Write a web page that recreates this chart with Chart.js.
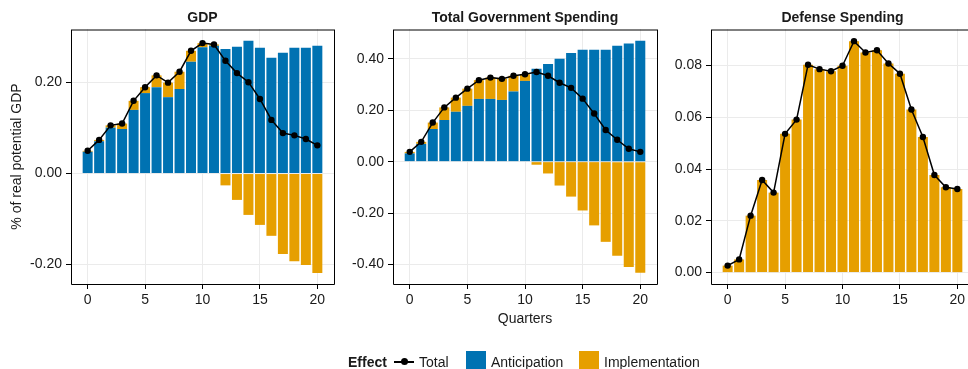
<!DOCTYPE html>
<html>
<head>
<meta charset="utf-8">
<script src="https://cdn.jsdelivr.net/npm/chart.js@4/dist/chart.umd.min.js"></script>
<style>
  html, body { margin: 0; padding: 0; width: 968px; height: 369px; overflow: hidden; background: #fff;
    font-family: "Liberation Sans", Arial, Helvetica, sans-serif; color: #1a1a1a; }
  .panel { position: absolute; top: 0; height: 369px; }
  .lg { position: absolute; top: 352px; height: 20px; line-height: 20px; font-size: 14px; white-space: nowrap; }
  .sw { position: absolute; top: 351px; width: 20px; height: 19px; }
</style>
</head>
<body>
<div class="panel" style="left:0px;width:340px"><canvas id="gdp" width="340" height="369"></canvas></div>
<div class="panel" style="left:340px;width:323px"><canvas id="gov" width="323" height="369"></canvas></div>
<div class="panel" style="left:663px;width:317px"><canvas id="def" width="317" height="369"></canvas></div>

<div class="lg" style="left:348px;font-weight:bold">Effect</div>
<div style="position:absolute;left:394px;top:361px;width:20px;height:1.5px;background:#000"></div>
<div style="position:absolute;left:400.5px;top:358.3px;width:7px;height:7px;border-radius:50%;background:#000"></div>
<div class="lg" style="left:419px">Total</div>
<div class="sw" style="left:466px;background:#0072B2"></div>
<div class="lg" style="left:491px">Anticipation</div>
<div class="sw" style="left:579px;background:#E69F00"></div>
<div class="lg" style="left:604px">Implementation</div>

<script>
// Quarters after the announcement
const quarters = [0,1,2,3,4,5,6,7,8,9,10,11,12,13,14,15,16,17,18,19,20];
const xTicks = [0, 5, 10, 15, 20];

// GDP response (% of real potential GDP)
const gdpAnticipation = [0.048, 0.071, 0.101, 0.098, 0.140, 0.177, 0.190, 0.168, 0.186, 0.246, 0.278,
  0.281, 0.274, 0.279, 0.292, 0.277, 0.255, 0.266, 0.277, 0.277, 0.281];
const gdpImplementation = [0.002, 0.003, 0.005, 0.012, 0.020, 0.013, 0.026, 0.032, 0.038, 0.024, 0.009,
  0.003, -0.026, -0.058, -0.091, -0.113, -0.137, -0.177, -0.193, -0.201, -0.219];
const gdpTotal = [0.050, 0.074, 0.106, 0.110, 0.160, 0.190, 0.216, 0.200, 0.224, 0.270, 0.287,
  0.284, 0.248, 0.221, 0.201, 0.164, 0.118, 0.089, 0.084, 0.076, 0.062];
const gdpTicks = [-0.2, 0, 0.2];

// Total government spending response
const govAnticipation = [0.032, 0.069, 0.127, 0.162, 0.194, 0.217, 0.244, 0.244, 0.240, 0.273, 0.314,
  0.361, 0.380, 0.400, 0.423, 0.435, 0.435, 0.435, 0.451, 0.460, 0.470];
const govImplementation = [0.006, 0.008, 0.025, 0.049, 0.055, 0.067, 0.073, 0.083, 0.082, 0.061, 0.026,
  -0.012, -0.046, -0.093, -0.136, -0.190, -0.248, -0.312, -0.366, -0.410, -0.432];
const govTotal = [0.038, 0.077, 0.152, 0.211, 0.249, 0.284, 0.317, 0.327, 0.322, 0.334, 0.340,
  0.349, 0.334, 0.307, 0.287, 0.245, 0.187, 0.123, 0.085, 0.050, 0.038];
const govTicks = [-0.4, -0.2, 0, 0.2, 0.4];

// Defense spending response
const defAnticipation = [0,0,0,0,0,0,0,0,0,0,0,0,0,0,0,0,0,0,0,0,0];
const defImplementation = [0.0027, 0.0051, 0.0220, 0.0358, 0.0309, 0.0536, 0.0591, 0.0803, 0.0786, 0.0778, 0.0799,
  0.0894, 0.0850, 0.0859, 0.0808, 0.0768, 0.0630, 0.0524, 0.0377, 0.0330, 0.0323];
const defTotal = [0.0027, 0.0051, 0.0220, 0.0358, 0.0309, 0.0536, 0.0591, 0.0803, 0.0786, 0.0778, 0.0799,
  0.0894, 0.0850, 0.0859, 0.0808, 0.0768, 0.0630, 0.0524, 0.0377, 0.0330, 0.0323];
const defTicks = [0, 0.02, 0.04, 0.06, 0.08];

const BLUE = '#0072B2';
const ORANGE = '#E69F00';
const TEXT = '#1a1a1a';
const FONT = '"Liberation Sans", Arial, Helvetica, sans-serif';

// Panel title centred over the plotting area, plus the axis frame
const framePlugin = {
  id: 'frame',
  afterDraw(chart, args, opts) {
    const { ctx, chartArea: a } = chart;
    ctx.save();
    ctx.fillStyle = TEXT;
    ctx.font = 'bold 14px ' + FONT;
    ctx.textAlign = 'center';
    ctx.textBaseline = 'middle';
    ctx.fillText(opts.title, (a.left + a.right) / 2, 18.5);
    ctx.strokeStyle = '#000';
    ctx.lineWidth = 1;
    ctx.beginPath();
    ctx.moveTo(a.left + 0.5, a.top + 1); ctx.lineTo(a.left + 0.5, a.bottom + 0.5);
    ctx.lineTo(a.right + 0.5, a.bottom + 0.5); ctx.lineTo(a.right + 0.5, a.top + 1);
    ctx.stroke();
    ctx.beginPath();
    ctx.moveTo(a.left, a.top + 1); ctx.lineTo(a.right + 1, a.top + 1);
    ctx.stroke();
    ctx.restore();
  }
};

function pts(ys) { return quarters.map((q, i) => ({ x: q, y: ys[i] })); }

function makePanel(id, cfg) {
  new Chart(document.getElementById(id), {
    type: 'bar',
    data: {
      datasets: [
        { type: 'line', label: 'Total', data: pts(cfg.total), stack: 'line', order: 0,
          borderColor: '#000', borderWidth: 1.5, backgroundColor: '#000',
          pointRadius: 3.2, pointBorderWidth: 0, pointBackgroundColor: '#000', tension: 0, clip: false },
        { label: 'Anticipation', data: pts(cfg.anticipation), stack: 'bars', order: 1,
          backgroundColor: BLUE, borderWidth: 0, barPercentage: 0.87, categoryPercentage: 1 },
        { label: 'Implementation', data: pts(cfg.implementation), stack: 'bars', order: 1,
          backgroundColor: ORANGE, borderWidth: 0, barPercentage: 0.87, categoryPercentage: 1 }
      ]
    },
    options: {
      responsive: false,
      animation: false,
      events: [],
      layout: { padding: { top: 29, left: 0, right: 6, bottom: cfg.padBottom } },
      plugins: { legend: { display: false }, tooltip: { enabled: false }, frame: { title: cfg.title } },
      scales: {
        x: {
          type: 'linear', min: -1.45, max: 21.45, offset: false, stacked: true,
          afterBuildTicks: s => { s.ticks = xTicks.map(v => ({ value: v })); },
          afterFit: s => { s.height = cfg.xAxisHeight; },
          grid: { offset: false, color: '#ebebeb', lineWidth: 1, drawTicks: true, tickLength: 5, tickColor: '#000', tickWidth: 1 },
          border: { display: false },
          ticks: { color: TEXT, font: { family: FONT, size: 14 }, padding: 3, maxRotation: 0, autoSkip: false,
            callback: v => String(v) },
          title: { display: !!cfg.xTitle, text: cfg.xTitle || '', color: TEXT,
            font: { family: FONT, size: 14 }, padding: { top: 0, bottom: 1 } }
        },
        y: {
          type: 'linear', min: cfg.yMin, max: cfg.yMax, stacked: true,
          afterBuildTicks: s => { s.ticks = cfg.yTicks.map(v => ({ value: v })); },
          afterFit: s => { s.width = cfg.yAxisWidth; },
          grid: { offset: false, color: '#ebebeb', lineWidth: 1, drawTicks: true, tickLength: 5, tickColor: '#000', tickWidth: 1 },
          border: { display: false },
          ticks: { color: TEXT, font: { family: FONT, size: 14 }, padding: 4,
            callback: v => Number(v).toFixed(2) },
          title: { display: !!cfg.yTitle, text: cfg.yTitle || '', color: TEXT,
            font: { family: FONT, size: 14 }, padding: { top: 9, bottom: 0 } }
        }
      }
    },
    plugins: [framePlugin]
  });
}

makePanel('gdp', {
  title: 'GDP', anticipation: gdpAnticipation, implementation: gdpImplementation, total: gdpTotal,
  yMin: -0.243, yMax: 0.318, yTicks: gdpTicks, yAxisWidth: 71, xAxisHeight: 30, padBottom: 55,
  yTitle: '% of real potential GDP'
});
makePanel('gov', {
  title: 'Total Government Spending', anticipation: govAnticipation, implementation: govImplementation, total: govTotal,
  yMin: -0.476, yMax: 0.516, yTicks: govTicks, yAxisWidth: 53, xAxisHeight: 45, padBottom: 40,
  xTitle: 'Quarters'
});
makePanel('def', {
  title: 'Defense Spending', anticipation: defAnticipation, implementation: defImplementation, total: defTotal,
  yMin: -0.0044, yMax: 0.0941, yTicks: defTicks, yAxisWidth: 48, xAxisHeight: 30, padBottom: 55
});
</script>
</body>
</html>
